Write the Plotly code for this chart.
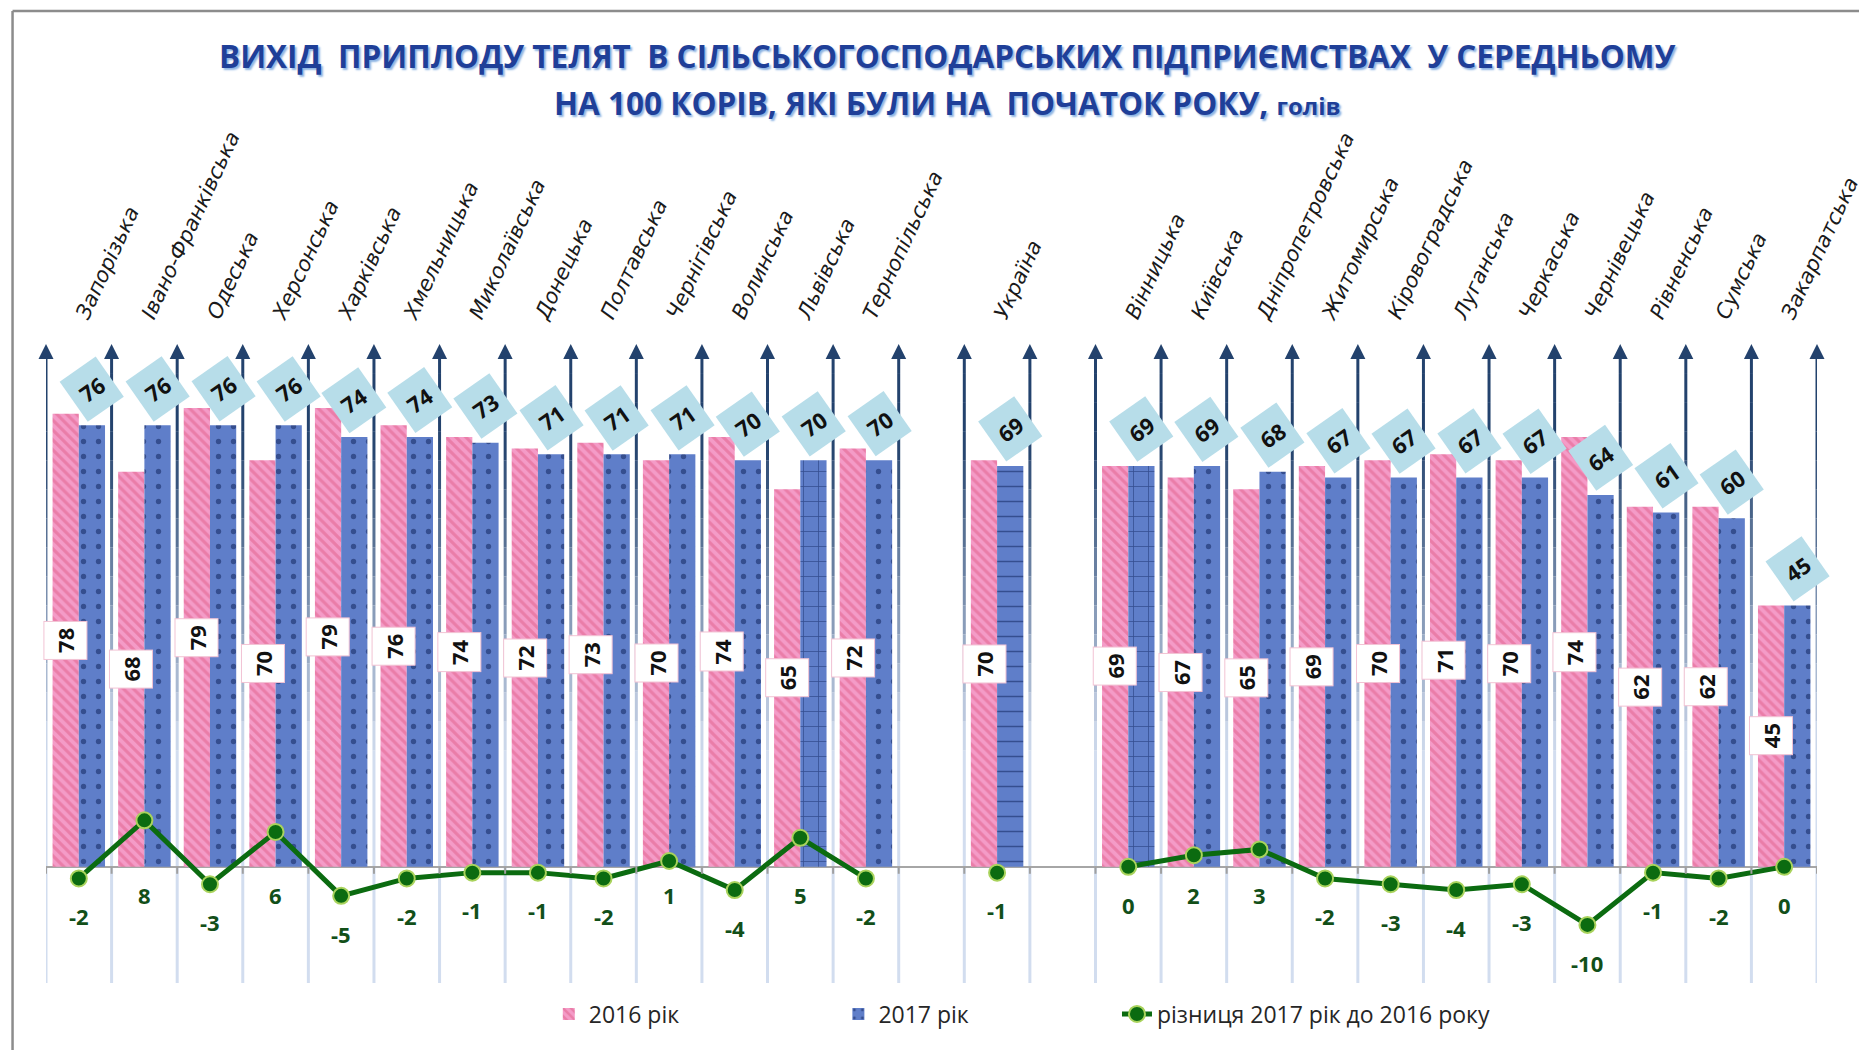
import plotly.graph_objects as go

# ---------------- data ----------------
categories = ["Запорізька", "Івано-Франківська", "Одеська", "Херсонська", "Харківська",
              "Хмельницька", "Миколаївська", "Донецька", "Полтавська", "Чернігівська",
              "Волинська", "Львівська", "Тернопільська", "", "Україна", " ",
              "Вінницька", "Київська", "Дніпропетровська", "Житомирська", "Кіровоградська",
              "Луганська", "Черкаська", "Чернівецька", "Рівненська", "Сумська", "Закарпатська"]
values_2016 = [78, 68, 79, 70, 79, 76, 74, 72, 73, 70, 74, 65, 72, None, 70, None,
               69, 67, 65, 69, 70, 71, 70, 74, 62, 62, 45]
values_2017 = [76, 76, 76, 76, 74, 74, 73, 71, 71, 71, 70, 70, 70, None, 69, None,
               69, 69, 68, 67, 67, 67, 67, 64, 61, 60, 45]
difference = [-2, 8, -3, 6, -5, -2, -1, -1, -2, 1, -4, 5, -2, None, -1, None,
              0, 2, 3, -2, -3, -4, -3, -10, -1, -2, 0]
pattern_2017 = [".", ".", ".", ".", ".", ".", ".", ".", ".", ".", ".", "+", ".", ".", "-", ".",
                "+", ".", ".", ".", ".", ".", ".", ".", ".", ".", "."]

series_names = ["2016 рік", "2017 рік", "різниця 2017 рік до 2016 року"]
title_line1 = "ВИХІД  ПРИПЛОДУ ТЕЛЯТ  В СІЛЬСЬКОГОСПОДАРСЬКИХ ПІДПРИЄМСТВАХ  У СЕРЕДНЬОМУ"
title_line2 = "НА 100 КОРІВ, ЯКІ БУЛИ НА  ПОЧАТОК РОКУ, "
title_unit = "голів"

# ---------------- layout constants (page pixels; page body has an 8px margin) ----------------
W, H = 1867, 1050
OFF = 8
PLOT_L, PLOT_R, PLOT_T, PLOT_B = 45.5, 1819, 344, 983   # target page coordinates
ML = PLOT_L - OFF
MT = PLOT_T - OFF
MR = W - (PLOT_R - OFF)
MB = H - (PLOT_B - OFF)
Y_MIN, Y_MAX = -20, 90
PW = PLOT_R - PLOT_L
PH = PLOT_B - PLOT_T


def px_x(px):
    return (px - PLOT_L) / PW


def px_y(py):
    return (PLOT_B - py) / PH


n = len(categories)
xs = list(range(n))

PINK = "#f49bc7"
PINK_FG = "#df5f8a"
BLUE = "#5f7ec9"
BLUE_FG = "#0b1d55"
GREEN = "#0b6b10"
GREEN_EDGE = "#a9d35c"
LABEL_GREEN = "#124f19"
FONT = "Open Sans"

fig = go.Figure()

fig.add_trace(go.Bar(
    x=xs, y=values_2016, name=series_names[0], legend="legend",
    marker=dict(color=PINK, line=dict(width=0),
                pattern=dict(shape="\\", fgcolor=PINK_FG, size=7, solidity=0.45,
                             fillmode="overlay")),
    hoverinfo="skip",
))
fig.add_trace(go.Bar(
    x=xs, y=values_2017, name=series_names[1], legend="legend2",
    marker=dict(color=BLUE, line=dict(width=0),
                pattern=dict(shape=pattern_2017, fgcolor=BLUE_FG, size=15, solidity=0.1,
                             fillmode="overlay")),
    hoverinfo="skip",
))
fig.add_trace(go.Scatter(
    x=xs, y=difference, name=series_names[2], mode="lines+markers", legend="legend3",
    line=dict(color=GREEN, width=5),
    marker=dict(size=16, color=GREEN, line=dict(color=GREEN_EDGE, width=2)),
    connectgaps=False, hoverinfo="skip",
))

# ---------------- separators with arrows ----------------
def mix(c1, c2, t):
    a = [int(c1[i:i + 2], 16) for i in (1, 3, 5)]
    b = [int(c2[i:i + 2], 16) for i in (1, 3, 5)]
    return "#" + "".join(f"{round(a[k] + (b[k] - a[k]) * t):02x}" for k in range(3))


LIGHT = "#d2ddef"
DARK = "#23426d"
shapes = []
bounds = [i - 0.5 for i in range(n + 1)]
for xb in bounds:
    shapes.append(dict(type="line", xref="x", yref="y", x0=xb, x1=xb, y0=Y_MIN, y1=20,
                       line=dict(color=LIGHT, width=3), layer="below"))
    steps = 14
    for s in range(steps):
        y0 = 20 + s * 5
        y1 = y0 + 5
        t = (s + 0.5) / steps
        shapes.append(dict(type="line", xref="x", yref="y", x0=xb, x1=xb, y0=y0,
                           y1=y1 - 1.6 if s == steps - 1 else y1,
                           line=dict(color=mix(LIGHT, DARK, min(1, t * 1.3)), width=3),
                           layer="below"))
    shapes.append(dict(type="line", xref="x", yref="y", x0=xb, x1=xb, y0=0, y1=-1.2,
                       line=dict(color="#a0a0a0", width=2), layer="above"))

fig.add_trace(go.Scatter(
    x=bounds, y=[Y_MAX] * len(bounds), mode="markers", showlegend=False,
    marker=dict(symbol="arrow-up", size=15, color=DARK, line=dict(width=0)),
    cliponaxis=False, hoverinfo="skip",
))

# frame
shapes.append(dict(type="line", xref="paper", yref="paper",
                   x0=px_x(12), x1=px_x(W + 20), y0=px_y(11), y1=px_y(11),
                   line=dict(color="#8c8c8c", width=2.5)))
shapes.append(dict(type="line", xref="paper", yref="paper",
                   x0=px_x(12), x1=px_x(12), y0=px_y(11), y1=px_y(H + 20),
                   line=dict(color="#8c8c8c", width=2.5)))

# ---------------- labels ----------------
annotations = []
for i in xs:
    v16 = values_2016[i]
    v17 = values_2017[i]
    d = difference[i]
    if v16 is not None:
        annotations.append(dict(
            x=i - 0.2, y=v16 / 2, xref="x", yref="y", text=f"<b>{v16}</b>", showarrow=False,
            xanchor="center", yanchor="middle",
            textangle=-90, bgcolor="white", bordercolor="#f2c3d4", borderwidth=1, borderpad=6,
            font=dict(family=FONT, size=22, color="#111111")))
    if v17 is not None:
        annotations.append(dict(
            x=i + 0.2, y=v17 + 6.3, xref="x", yref="y", text=f"<b>{v17}</b>", showarrow=False,
            xanchor="center", yanchor="middle",
            textangle=-35, bgcolor="#b7dde9", borderpad=9,
            font=dict(family=FONT, size=22, color="#111111")))
    if d is not None:
        ly = d - 6.5 if d <= 0 else -4.8
        annotations.append(dict(
            x=i, y=ly, xref="x", yref="y", text=f"<b>{d}</b>", showarrow=False,
            xanchor="center", yanchor="middle",
            font=dict(family=FONT, size=22, color=LABEL_GREEN)))

title_font = dict(family=FONT, size=31.5, color="#1f3f98",
                  shadow="2px 2px 2px #8db4e3")
annotations.append(dict(x=px_x(948), y=px_y(56), xref="paper", yref="paper",
                        xanchor="center", yanchor="middle",
                        text=f"<b>{title_line1}</b>", showarrow=False, font=title_font))
annotations.append(dict(x=px_x(948), y=px_y(102), xref="paper", yref="paper",
                        xanchor="center", yanchor="middle",
                        text=f"<b>{title_line2}<span style='font-size:24px'>{title_unit}</span></b>",
                        showarrow=False, font=title_font))

legend_font = dict(family=FONT, size=23, color="#262626")


def legend_at(px_left):
    return dict(orientation="h", x=px_x(px_left), xanchor="left", y=px_y(1014),
                yanchor="middle", font=legend_font, bgcolor="rgba(0,0,0,0)",
                borderwidth=0, itemwidth=30)


fig.update_layout(
    width=W, height=H,
    margin=dict(l=ML, r=MR, t=MT, b=MB, pad=0),
    paper_bgcolor="white", plot_bgcolor="white",
    barmode="group", bargap=0.2, bargroupgap=0,
    shapes=shapes, annotations=annotations,
    xaxis=dict(range=[-0.5, n - 0.5], side="top", tickmode="array", tickvals=xs,
               ticktext=categories, tickangle=-65, showgrid=False, zeroline=False,
               showline=False, ticks="", ticklabelstandoff=12,
               tickfont=dict(family="DejaVu Sans", size=21, color="#1a1a1a", style="italic")),
    yaxis=dict(range=[Y_MIN, Y_MAX], showgrid=False, showticklabels=False,
               zeroline=True, zerolinecolor="#a6a6a6", zerolinewidth=2, showline=False),
    legend=legend_at(549),
    legend2=legend_at(839),
    legend3=legend_at(1118),
    showlegend=True,
)

fig.write_html("out.html", config={"displayModeBar": False})
